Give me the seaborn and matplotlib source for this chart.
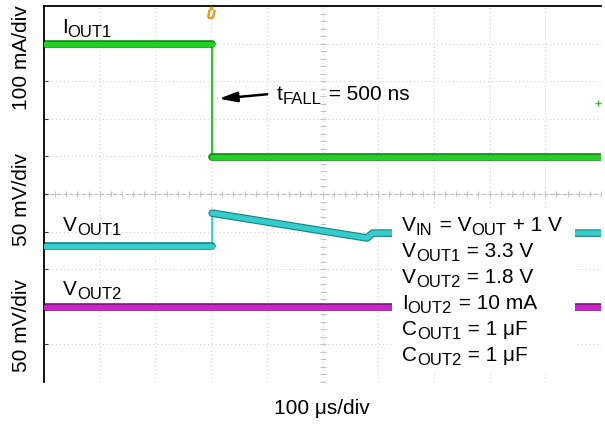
import numpy as np
import pandas as pd
import seaborn as sns
import matplotlib.pyplot as plt
from matplotlib.patches import Rectangle

# ---- data (oscilloscope divisions: x 0..10, y 0..10) ----
iout1_t = [0.0, 3.02, 3.02, 10.0]
iout1_v = [9.0, 9.0, 5.98, 5.98]
iout1_seg = [0, 0, 1, 1]

vout1_t = [0.0, 3.02, 3.02, 5.8, 5.9, 10.0]
vout1_v = [3.62, 3.62, 4.49, 3.83, 3.96, 3.96]
vout1_seg = [0, 0, 1, 1, 1, 1]

vout2_t = [0.0, 10.0]
vout2_v = [1.99, 1.99]
vout2_seg = [0, 0]

# rich text pieces: (text, is_subscript)
trace_labels = [
    [("I", False), ("OUT1", True)],
    [("V", False), ("OUT1", True)],
    [("V", False), ("OUT2", True)],
]
cond_lines = [
    [("V", False), ("IN", True), (" = V", False), ("OUT", True), (" + 1 V", False)],
    [("V", False), ("OUT1", True), (" = 3.3 V", False)],
    [("V", False), ("OUT2", True), (" = 1.8 V", False)],
    [("I", False), ("OUT2", True), (" = 10 mA", False)],
    [("C", False), ("OUT1", True), (" = 1 μF", False)],
    [("C", False), ("OUT2", True), (" = 1 μF", False)],
]
fall_label = [("t", False), ("FALL", True), (" = 500 ns", False)]
y_axis_labels = ["100 mA/div", "50 mV/div", "50 mV/div"]
x_axis_label = "100 μs/div"

# ---- style ----
sns.set_theme(style="white")
plt.rcParams["font.family"] = ["Liberation Sans", "DejaVu Sans"]
plt.rcParams["text.color"] = "black"

W, H = 605, 425
fig = plt.figure(figsize=(W / 100, H / 100), dpi=100)
ax = fig.add_axes([44 / W, 43 / H, 557 / W, 376 / H])
ax.set_xlim(0, 10)
ax.set_ylim(0, 10)
renderer = fig.canvas.get_renderer()


def fx(px):
    return px / W


def fy(py):
    return 1 - py / H


FS = 15
SUB = 0.8


def rich(x_px, y_px, parts, fs=FS, z=6):
    x = x_px
    for s, sub in parts:
        size = fs * SUB if sub else fs
        dy = 4.3 if sub else 0
        t = fig.text(fx(x), fy(y_px + dy), s, fontsize=size, va="baseline", ha="left",
                     color="black", zorder=z)
        bb = t.get_window_extent(renderer)
        x += bb.width + (1.0 if sub else 0)


# grid
grid_c = "#d2d2d2"
for k in range(1, 11):
    ax.axvline(k, color=grid_c, lw=0.8, ls=(0, (1, 2.5)), zorder=0)
for k in range(0, 10):
    ax.axhline(k, color=grid_c, lw=0.8, ls=(0, (1, 2.5)), zorder=0)
ax.axhline(5, color="#bdbdbd", lw=0.9, ls=(0, (3, 2)), zorder=0)
minor = np.arange(0, 10.01, 0.2)
ax.plot(np.full_like(minor, 5.0), minor, ls="none", marker="_", ms=4, mew=0.8, color="#c4c4c4", zorder=0)
ax.plot(minor, np.full_like(minor, 5.0), ls="none", marker="|", ms=4, mew=0.8, color="#c4c4c4", zorder=0)

# traces
traces = [
    (iout1_t, iout1_v, iout1_seg, "#25cf25", "#138a13"),
    (vout1_t, vout1_v, vout1_seg, "#35cccc", "#1b8585"),
    (vout2_t, vout2_v, vout2_seg, "#cc22cc", "#7d147d"),
]
for t, v, seg, core, edge in traces:
    df = pd.DataFrame({"t": t, "v": v, "seg": seg})
    sns.lineplot(data=df, x="t", y="v", estimator=None, sort=False, color=core, lw=1.5, ax=ax, zorder=2)
    sns.lineplot(data=df, x="t", y="v", units="seg", estimator=None, sort=False, color=edge, lw=5.5, ax=ax, zorder=2)
    sns.lineplot(data=df, x="t", y="v", units="seg", estimator=None, sort=False, color=core, lw=3.8, ax=ax, zorder=3)

# trigger marker and small artifact
ax.plot([3.0], [9.78], marker="$U$", ms=6, color="#e0a030", clip_on=False, zorder=4)
ax.plot([3.0], [9.95], marker="o", ms=2, color="#e0a030", clip_on=False, zorder=4)
ax.plot([9.95], [7.42], marker="+", ms=4, mew=1, color="#30c030", zorder=4)

# conditions box
x0 = (392 - 44) / 55.7
x1 = (575 - 44) / 55.7
y0 = (382 - 372) / 37.6
y1 = (382 - 210) / 37.6
ax.add_patch(Rectangle((x0, y0), x1 - x0, y1 - y0, facecolor="white", edgecolor="none", zorder=5))

baselines = [231, 257, 283, 309, 335, 361]
for parts, b in zip(cond_lines, baselines):
    rich(402, b, parts)

# trace labels
for parts, (px, py) in zip(trace_labels, [(62, 33), (63, 231), (63, 295)]):
    rich(px, py, parts)

# fall time annotation
rich(277, 100, fall_label)
ax.annotate("", xy=(fx(216), fy(99)), xytext=(fx(270), fy(94)),
            xycoords="figure fraction", textcoords="figure fraction",
            arrowprops=dict(arrowstyle="-|>,head_length=0.9,head_width=0.25", lw=1.8, color="black"))

# axis labels
for lab, cy in zip(y_axis_labels, [58, 199, 325]):
    fig.text(fx(22), fy(cy), lab, fontsize=FS, rotation=90, va="center", ha="center", color="black")
fig.text(fx(322), fy(408), x_axis_label, fontsize=FS, va="center", ha="center", color="black")

# spines / ticks
ax.set_xlabel("")
ax.set_ylabel("")
for s in ["right", "bottom"]:
    ax.spines[s].set_visible(False)
for s in ["left", "top"]:
    ax.spines[s].set_color("black")
    ax.spines[s].set_linewidth(1.3)
ax.set_yticks(range(1, 10))
ax.set_xticks([])
ax.tick_params(axis="y", direction="in", length=3, width=0.8, color="#404040", labelleft=False, left=True)

fig.savefig("out.png", dpi=100, facecolor="white")
